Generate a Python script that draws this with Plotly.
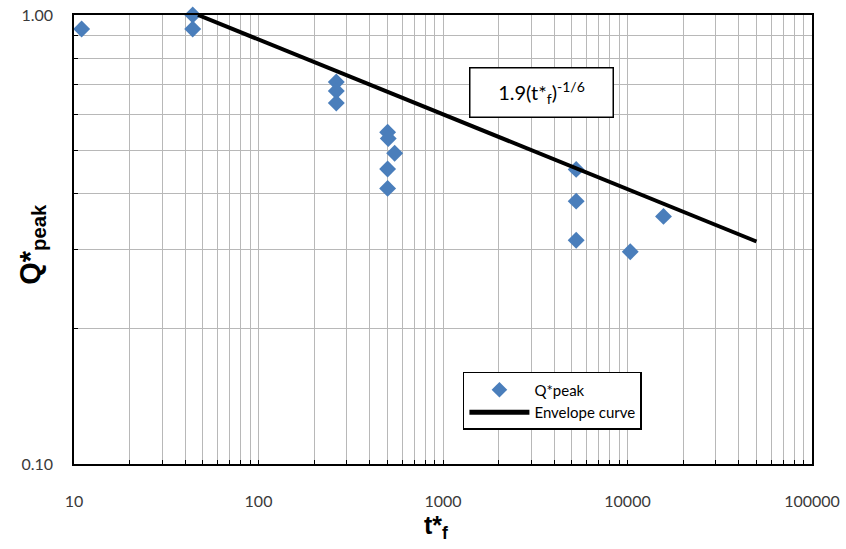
import plotly.graph_objects as go

# Observed peak values against dimensionless time
t_obs = [11, 44, 44, 264, 264, 264, 501, 505, 547, 501, 501, 5270, 5270, 5270, 10350, 15670]
q_obs = [0.931, 1.0, 0.931, 0.709, 0.677, 0.637, 0.548, 0.531, 0.492, 0.454, 0.411,
         0.453, 0.385, 0.315, 0.297, 0.356]

# Envelope curve Q = 1.9 * t^(-1/6), straight on log-log axes
env_coef = 1.9
env_exp = -1.0 / 6.0
env_t = [47, 50000]
env_q = [env_coef * t ** env_exp for t in env_t]

x_ticks = [10, 100, 1000, 10000, 100000]
x_ticktext = ["10", "100", "1000", "10000", "100000"]
y_ticks = [0.1, 1.0]
y_ticktext = ["0.10", "1.00"]

x_minor = [m * 10 ** e for e in range(1, 5) for m in range(2, 10)]
y_minor = [m / 10 for m in range(2, 10)]

grid_col = "#b8b8b8"
tick_font = dict(family="Lato, Open Sans, sans-serif", size=16, color="#3a3a3a")
title_font = "Liberation Sans, Arial, sans-serif"

fig = go.Figure()
fig.add_trace(go.Scatter(
    x=t_obs, y=q_obs, mode="markers", name="Q*peak",
    marker=dict(symbol="diamond", size=13, color="#4a7ebb"),
    cliponaxis=False,
))
fig.add_trace(go.Scatter(
    x=env_t, y=env_q, mode="lines", name="Envelope curve",
    line=dict(color="black", width=4),
    cliponaxis=False,
))

common = dict(
    type="log", tickmode="array",
    ticks="inside", ticklen=4, tickcolor="black",
    showline=True, linecolor="black", linewidth=1.5, mirror=True,
    showgrid=True, gridcolor=grid_col, gridwidth=1,
    tickfont=tick_font, zeroline=False, automargin=False,
)
fig.update_xaxes(
    range=[1, 5], tickvals=x_ticks, ticktext=x_ticktext,
    minor=dict(tickmode="array", tickvals=x_minor, showgrid=True,
               gridcolor=grid_col, gridwidth=1, ticks="inside", ticklen=4,
               tickcolor="black"),
    ticklabelstandoff=22, **common,
)
fig.update_yaxes(
    range=[-1, 0], tickvals=y_ticks, ticktext=y_ticktext,
    minor=dict(tickmode="array", tickvals=y_minor, showgrid=True,
               gridcolor=grid_col, gridwidth=1, ticks="inside", ticklen=4,
               tickcolor="black"),
    ticklabelstandoff=16, **common,
)

# Axis titles
fig.add_annotation(
    xref="paper", yref="paper", x=0.49, y=-0.1, xanchor="center", yanchor="top",
    text="<b>t*<sub>f</sub></b>", showarrow=False,
    font=dict(family=title_font, size=25, color="black"),
)
fig.add_annotation(
    xref="paper", yref="paper", x=-0.03, y=0.49, xanchor="right", yanchor="middle",
    text="<b>Q*<sub>peak</sub></b>", showarrow=False, textangle=-90,
    font=dict(family=title_font, size=29, color="black"),
)

# Equation label for the envelope curve
fig.add_annotation(
    xref="paper", yref="paper", x=0.633, y=0.884,
    text="1.9(t*<sub>f</sub>)<sup>-1/6</sup>",
    showarrow=False,
    font=dict(family="Lato, Open Sans, sans-serif", size=20, color="black"),
    bgcolor="white", bordercolor="black", borderwidth=1.5,
    width=138, height=44, borderpad=2,
)

fig.update_layout(
    width=846, height=549,
    margin=dict(l=74, r=34, t=15, b=85),
    paper_bgcolor="white", plot_bgcolor="white",
    showlegend=True,
    legend=dict(
        x=0.527, y=0.205, xanchor="left", yanchor="top",
        bgcolor="white", bordercolor="black", borderwidth=1.5,
        font=dict(family="Lato, Open Sans, sans-serif", size=15, color="black"),
        tracegroupgap=0, itemwidth=60, itemsizing="constant",
    ),
)

fig.write_html("out.html")
